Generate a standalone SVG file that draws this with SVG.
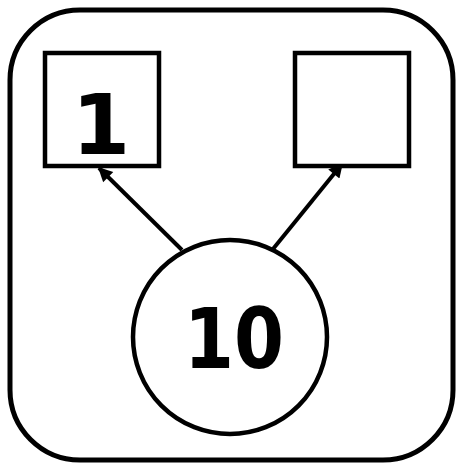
<svg xmlns="http://www.w3.org/2000/svg" width="458" height="465" viewBox="0 0 458 465">
<style>
.box{fill:#fff;stroke:#000;stroke-width:4.5}
.edge{stroke:#000;stroke-width:4;fill:none}
.lbl{font-family:"DejaVu Sans",sans-serif;font-weight:bold;font-size:84px;fill:#000;text-anchor:middle}
</style>
<defs>
<marker id="ah" viewBox="0 0 10 10" refX="9" refY="5" markerWidth="4" markerHeight="3.6" orient="auto" markerUnits="strokeWidth">
<path d="M0,0 L10,5 L0,10 z" fill="#000"/>
</marker>
</defs>
<rect id="frame" x="10" y="10" width="443" height="450" rx="70" ry="70" fill="#fff" stroke="#000" stroke-width="5"/>
<g id="connectors">
<line class="edge" x1="182" y1="250" x2="99" y2="168" marker-end="url(#ah)"/>
<line class="edge" x1="273" y1="249" x2="342" y2="164" marker-end="url(#ah)"/>
</g>
<g id="node-left">
<rect class="box" x="45" y="53" width="114" height="113"/>
<text class="lbl" x="101" y="154">1</text>
</g>
<g id="node-right">
<rect class="box" x="295" y="53" width="114" height="113"/>
</g>
<g id="node-root">
<circle class="box" cx="230" cy="337" r="97"/>
<text class="lbl" x="234" y="368" textLength="100" lengthAdjust="spacingAndGlyphs">10</text>
</g>
</svg>
